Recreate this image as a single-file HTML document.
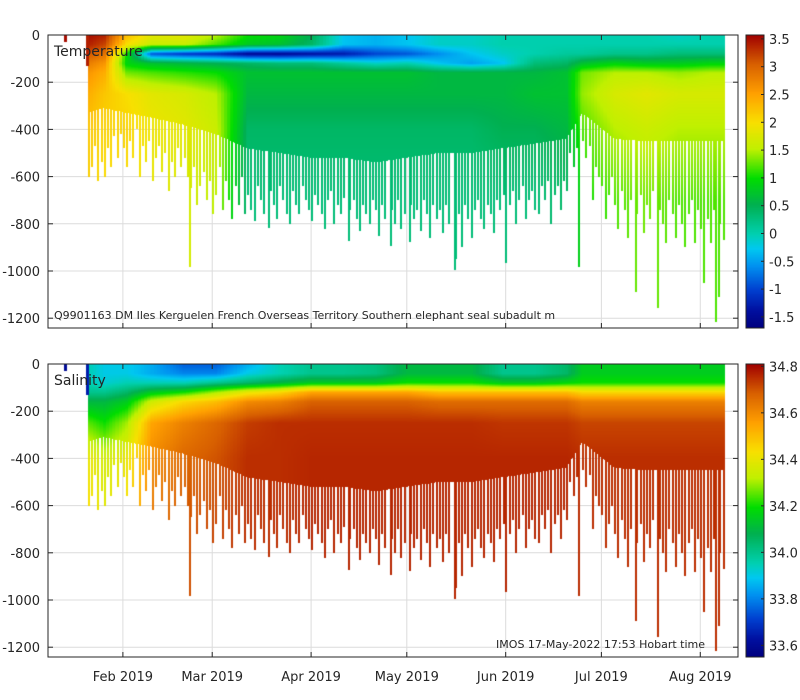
<!DOCTYPE html>
<html><head><meta charset="utf-8">
<style>
body{margin:0;background:#fff;width:800px;height:700px;overflow:hidden;font-family:"DejaVu Sans","Liberation Sans",sans-serif}
#wrap{position:relative;width:800px;height:700px}
svg,canvas{position:absolute;left:0;top:0}
</style></head>
<body>
<div id="wrap">
<svg id="grid" width="800" height="700"></svg>
<canvas id="cv" width="800" height="700"></canvas>
<svg id="axes" width="800" height="700"></svg>
</div>
<script>
// ---- data ----
const segDay   = [20,25,32,40,50,60,70,80,90,100,110,120,130,140,150,160,170,175,185,195,205,215,219];
const segDepth = [330,310,330,350,380,420,480,500,520,520,540,520,500,500,480,460,440,330,440,450,450,450,450];
const levels   = [0,40,80,120,160,250,400,700,1300];
const segTemp = [
 [3.5,3.4,3.1,2.8,2.6,2.4,2.2,2.1,2.1],
 [3.4,3.2,2.9,2.6,2.4,2.2,2.1,2.0,2.0],
 [2.3,2.0,1.0,0.9,1.3,2.0,2.1,2.0,2.0],
 [1.8,1.6,-0.9,0.7,1.2,1.8,1.9,1.8,1.8],
 [1.8,1.6,-1.1,0.6,1.1,1.7,1.8,1.7,1.7],
 [1.5,1.2,-1.2,0.5,1.0,1.5,1.6,1.5,1.5],
 [1.0,0.8,-1.5,0.4,0.7,0.6,0.4,0.3,0.3],
 [0.9,0.7,-1.5,0.3,0.7,0.6,0.4,0.3,0.3],
 [0.5,0.4,-1.4,0.3,0.7,0.6,0.4,0.3,0.3],
 [-0.3,-0.3,-1.3,0.1,0.7,0.6,0.4,0.3,0.3],
 [-0.4,-0.4,-1.0,-0.1,0.7,0.6,0.4,0.3,0.3],
 [-0.3,-0.3,-0.9,0.0,0.7,0.6,0.4,0.3,0.3],
 [-0.1,-0.1,-0.6,-0.3,0.6,0.6,0.4,0.3,0.3],
 [-0.1,-0.1,-0.3,-0.5,0.6,0.6,0.4,0.3,0.3],
 [0.0,0.0,-0.1,-0.3,0.6,0.6,0.5,0.3,0.3],
 [0.0,0.0,0.0,0.3,0.6,0.7,0.5,0.3,0.3],
 [0.0,0.0,0.1,0.4,0.7,0.7,0.6,0.4,0.4],
 [0.0,0.0,0.1,0.7,1.3,1.4,1.2,1.0,1.0],
 [0.0,0.0,0.2,0.9,1.5,1.7,1.5,1.2,1.2],
 [0.0,0.0,0.2,0.8,1.5,1.8,1.6,1.3,1.3],
 [-0.1,0.0,0.3,0.8,1.4,1.7,1.5,1.2,1.2],
 [0.0,0.0,0.3,0.9,1.5,1.7,1.5,1.2,1.2],
 [0.0,0.0,0.3,0.9,1.5,1.7,1.5,1.2,1.2]];
const segSal = [
 [33.95,33.95,33.95,34.0,34.1,34.25,34.4,34.45,34.45],
 [33.9,33.9,33.92,34.0,34.1,34.2,34.35,34.4,34.4],
 [33.9,33.9,33.95,34.05,34.15,34.3,34.4,34.45,34.45],
 [33.85,33.85,33.95,34.15,34.35,34.55,34.6,34.65,34.65],
 [33.75,33.8,33.95,34.2,34.45,34.62,34.67,34.7,34.7],
 [33.75,33.8,34.0,34.3,34.5,34.67,34.7,34.72,34.72],
 [33.85,33.9,34.05,34.4,34.6,34.73,34.75,34.75,34.75],
 [33.95,33.95,34.1,34.45,34.62,34.75,34.75,34.75,34.75],
 [34.0,34.0,34.15,34.55,34.68,34.75,34.76,34.76,34.76],
 [34.0,34.0,34.15,34.55,34.68,34.75,34.76,34.76,34.76],
 [34.02,34.02,34.15,34.55,34.68,34.75,34.76,34.76,34.76],
 [34.1,34.1,34.2,34.55,34.68,34.75,34.76,34.76,34.76],
 [34.1,34.1,34.2,34.5,34.66,34.75,34.76,34.76,34.76],
 [34.1,34.1,34.2,34.5,34.66,34.75,34.76,34.76,34.76],
 [34.0,34.0,34.15,34.5,34.66,34.74,34.76,34.76,34.76],
 [34.0,34.0,34.15,34.5,34.66,34.74,34.76,34.76,34.76],
 [34.05,34.05,34.18,34.5,34.66,34.74,34.76,34.76,34.76],
 [34.15,34.15,34.2,34.45,34.62,34.72,34.75,34.75,34.75],
 [34.15,34.15,34.2,34.45,34.62,34.72,34.75,34.75,34.75],
 [34.15,34.15,34.2,34.45,34.62,34.72,34.75,34.75,34.75],
 [34.15,34.15,34.2,34.45,34.62,34.72,34.75,34.75,34.75],
 [34.15,34.15,34.2,34.45,34.62,34.72,34.75,34.75,34.75],
 [34.15,34.15,34.2,34.45,34.62,34.72,34.75,34.75,34.75]];
const spikeDay = [20,21,22,23,24,25,26,27,28,29,30,31,32,33,34,35,36,37,38,39,40,41,42,43,44,45,46,47,48,49,50,
 51,51.7,52,53,54,55,56,57,58,59,60,61,62,63,64,65,66,67,68,69,70,
 71,72,73,74,75,76.5,77,78,79,80,81,82,83,84,85,86,87,88,89,90,91,92,93,94,95,96,97,98,99,100,
 101.6,102,103,104,105,106,107,108,109,110,111,112,113,114.7,115,116,117,118,119,120.7,121,122,123,124,125,126,127,128,129,130,
 131,132,133,134.8,135,136,137,138,139,140,141,142,143,144,145,146,147,148,149,150,150.8,
 152,153,154,155,156,157,158,159,160,161,162,163,164,165,166,167,168,169,170,
 171,172,173,173.7,175,176,177,178,179,180,
 181,182,183,184,185,186,187,188,189,190,191.5,192,193,194,195,196,197,198.4,199,200,201,202,203,204,205,206,207,208,209,210,211,212,213,214,215,216,216.6,217.6,218,219];
const spikeDepth = [600,560,470,620,540,600,480,560,430,520,420,480,560,450,520,400,600,470,540,450,620,520,470,580,500,660,540,600,480,560,520,
 600,983,650,560,720,640,580,700,620,760,680,560,740,620,700,780,640,720,600,760,680,
 740,790,640,700,760,818,660,720,780,640,700,760,800,660,720,760,640,700,740,790,680,720,760,820,700,660,800,720,760,690,
 873,740,700,780,830,720,760,800,700,740,850,720,780,894,740,800,700,820,760,877,720,780,740,830,700,760,860,720,780,740,
 840,720,800,995,950,760,900,720,780,860,740,700,780,820,720,760,840,700,740,680,966,
 720,660,800,700,640,780,700,660,740,760,640,700,620,800,680,640,740,620,660,
 500,560,480,983,450,520,470,700,560,600,
 640,780,680,600,720,820,660,740,860,700,1090,760,680,840,720,780,660,1157,740,800,880,700,760,860,720,800,900,760,700,880,740,820,1050,780,880,740,1216,1110,800,870];
const isoDay   = [13,19.6];
const isoDepth = [30,130];
const isoTemp  = [3.5,3.4];
const isoSal   = [33.6,33.65];
const yTicks = [0,-200,-400,-600,-800,-1000,-1200];
const monthDays = [31,59,90,120,151,181,212];
const monthLabels = ['Feb 2019','Mar 2019','Apr 2019','May 2019','Jun 2019','Jul 2019','Aug 2019'];
const tempTicks = [3.5,3,2.5,2,1.5,1,0.5,0,-0.5,-1,-1.5];
const salTicks = [34.8,34.6,34.4,34.2,34,33.8,33.6];

// ---- geometry ----
const L=48,R=738,CBL=746,CBR=764;
const panels=[
 {top:35,bot:328,vmin:-1.7,vmax:3.57,key:'temp',seg:segTemp,iso:isoTemp,ticks:tempTicks,fmt:v=>String(v)},
 {top:364,bot:657,vmin:33.55,vmax:34.81,key:'sal',seg:segSal,iso:isoSal,ticks:salTicks,fmt:v=>v.toFixed(1)}];
const xDay=d=>24+d*3.19;
const yDep=(p,m)=>p.top+m*0.236;

const stops=[[0,[0,0,127]],[0.06,[0,16,160]],[0.13,[0,64,208]],[0.21,[0,144,240]],[0.27,[0,200,240]],[0.32,[0,208,176]],[0.42,[0,176,80]],[0.51,[0,221,0]],[0.61,[192,240,0]],[0.70,[248,224,0]],[0.80,[255,160,0]],[0.90,[216,96,0]],[1,[160,0,0]]];
function cmap(t){t=Math.max(0,Math.min(1,t));for(let i=1;i<stops.length;i++){if(t<=stops[i][0]){const a=stops[i-1],b=stops[i],f=(t-a[0])/(b[0]-a[0]);return a[1].map((c,k)=>Math.round(c+(b[1][k]-c)*f));}}return stops[stops.length-1][1];}
function interp1(xs,ys,x){if(x<=xs[0])return ys[0];for(let i=1;i<xs.length;i++)if(x<=xs[i]){const f=(x-xs[i-1])/(xs[i]-xs[i-1]);return ys[i-1]+(ys[i]-ys[i-1])*f;}return ys[ys.length-1];}
function profileAt(seg,day){const lv=levels.map((_,k)=>interp1(segDay,seg.map(r=>r[k]),day));return m=>interp1(levels,lv,m);}

const cv=document.getElementById('cv');const ctx=cv.getContext('2d');
function col(p,v){const c=cmap((v-p.vmin)/(p.vmax-p.vmin));return 'rgb('+c.join(',')+')';}
function drawProfile(p,px,w,prof,m0,m1){const y0=Math.round(yDep(p,m0)),y1=Math.round(yDep(p,m1));for(let y=y0;y<y1;y++){const m=(y-p.top+0.5)/0.236;ctx.fillStyle=col(p,prof(m));ctx.fillRect(px,y,w,1);}}
panels.forEach(p=>{
  const x0=Math.round(xDay(segDay[0])),x1=Math.round(xDay(segDay[segDay.length-1]));
  for(let px=x0;px<x1;px++){const day=(px+0.5-24)/3.19;const prof=profileAt(p.seg,day);drawProfile(p,px,1,prof,0,interp1(segDay,segDepth,day));}
  spikeDay.forEach((d,i)=>{const prof=profileAt(p.seg,d);drawProfile(p,Math.round(xDay(d)),2,prof,0,spikeDepth[i]);});
  isoDay.forEach((d,i)=>{const v=p.iso[i];drawProfile(p,Math.round(xDay(d))-1,3,()=>v,0,isoDepth[i]);});
  for(let y=p.top;y<p.bot;y++){const v=p.vmax-(y-p.top+0.5)/(p.bot-p.top)*(p.vmax-p.vmin);ctx.fillStyle=col(p,v);ctx.fillRect(CBL,y,CBR-CBL,1);}
});

// ---- svg axes ----
const NS='http://www.w3.org/2000/svg';
function mk(svg,tag,attrs,name,text){const e=document.createElementNS(NS,tag);for(const k in attrs)e.setAttribute(k,attrs[k]);if(text!==undefined)e.textContent=text;svg.appendChild(e);return e;}
const G=document.getElementById('grid'),A=document.getElementById('axes');
panels.forEach((p,pi)=>{
  const pre=p.key+'-';
  yTicks.forEach(t=>{const y=yDep(p,-t);mk(G,'line',{x1:L,x2:R,y1:y,y2:y,stroke:'#dcdcdc','stroke-width':1},pre+'y-gridline');
    mk(A,'line',{x1:L,x2:L+5,y1:y,y2:y,stroke:'#262626'},pre+'y-tick');mk(A,'line',{x1:R,x2:R-5,y1:y,y2:y,stroke:'#262626'},pre+'y-tick-right');
    mk(A,'text',{x:40,y:y+5,'text-anchor':'end','font-size':13,fill:'#262626'},pre+'y-tick-label',String(t));});
  monthDays.forEach((d,i)=>{const x=xDay(d);mk(G,'line',{x1:x,x2:x,y1:p.top,y2:p.bot,stroke:'#dcdcdc'},pre+'x-gridline');
    mk(A,'line',{x1:x,x2:x,y1:p.bot,y2:p.bot-5,stroke:'#262626'},pre+'x-tick');mk(A,'line',{x1:x,x2:x,y1:p.top,y2:p.top+5,stroke:'#262626'},pre+'x-tick-top');
    if(pi===1)mk(A,'text',{x:x,y:681,'text-anchor':'middle','font-size':13,fill:'#262626'},'x-tick-label',monthLabels[i]);});
  mk(A,'rect',{x:L,y:p.top,width:R-L,height:p.bot-p.top,fill:'none',stroke:'#262626','stroke-width':1},pre+'plot-frame');
  mk(A,'rect',{x:CBL,y:p.top,width:CBR-CBL,height:p.bot-p.top,fill:'none',stroke:'#262626'},pre+'colorbar-frame');
  p.ticks.forEach(v=>{const y=p.top+(p.vmax-v)/(p.vmax-p.vmin)*(p.bot-p.top);mk(A,'line',{x1:CBR,x2:CBR-3,y1:y,y2:y,stroke:'#262626'},pre+'colorbar-tick');
    mk(A,'text',{x:769,y:y+5,'font-size':13,fill:'#262626'},pre+'colorbar-label',p.fmt(v));});
});
mk(A,'text',{x:54,y:56,'font-size':14,fill:'#262626'},'temperature-title','Temperature');
mk(A,'text',{x:54,y:319,'font-size':11,fill:'#262626'},'platform-caption','Q9901163 DM Iles Kerguelen French Overseas Territory Southern elephant seal subadult m');
mk(A,'text',{x:54,y:385,'font-size':14,fill:'#262626'},'salinity-title','Salinity');
mk(A,'text',{x:705,y:648,'font-size':11,fill:'#262626','text-anchor':'end'},'timestamp-caption','IMOS 17-May-2022 17:53 Hobart time');
</script>
</body></html>
